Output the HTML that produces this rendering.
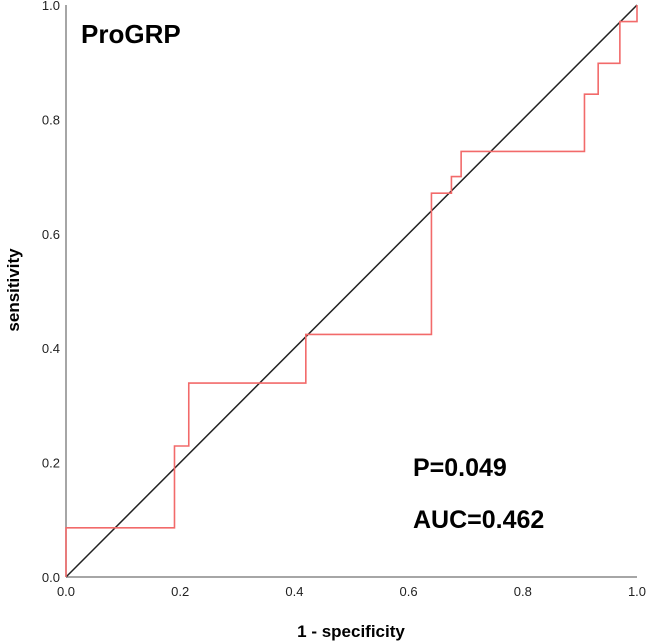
<!DOCTYPE html>
<html><head><meta charset="utf-8"><style>
html,body{margin:0;padding:0;background:#fff;}
svg{display:block;font-family:"Liberation Sans",sans-serif;}
</style></head><body>
<svg id="chart" width="647" height="644" viewBox="0 0 647 644">
<g id="axes"></g>
<line id="diag" stroke="#222" stroke-width="1.5"/>
<path id="roc" fill="none" stroke="#f26a6a" stroke-width="1.6"/>
<text x="81" y="43" font-size="26" font-weight="bold" fill="#000">ProGRP</text>
<text x="413" y="476" font-size="25" font-weight="bold" fill="#000">P=0.049</text>
<text x="413" y="528" font-size="25" font-weight="bold" fill="#000">AUC=0.462</text>
<text x="351" y="637" font-size="17" font-weight="bold" text-anchor="middle" fill="#000">1 - specificity</text>
<text transform="translate(19,290) rotate(-90)" font-size="17" font-weight="bold" text-anchor="middle" fill="#000">sensitivity</text>
</svg>
<script>
const xTicks = [0, 0.2, 0.4, 0.6, 0.8, 1.0];
const yTicks = [0, 0.2, 0.4, 0.6, 0.8, 1.0];
const fpr = [0, 0, 0.19, 0.215, 0.42, 0.64, 0.675, 0.692, 0.908, 0.932, 0.97, 1.0];
const tpr = [0, 0.086, 0.229, 0.339, 0.424, 0.671, 0.70, 0.744, 0.844, 0.898, 0.971, 1.0];

const X0 = 66, X1 = 637, Y0 = 577, Y1 = 5;
const sx = v => X0 + v * (X1 - X0);
const sy = v => Y0 - v * (Y0 - Y1);
const NS = "http://www.w3.org/2000/svg";
const axes = document.getElementById("axes");

function mk(tag, attrs, parent) {
  const e = document.createElementNS(NS, tag);
  for (const k in attrs) e.setAttribute(k, attrs[k]);
  parent.appendChild(e);
  return e;
}
const xl = mk("line", {x1: X0, y1: Y0, x2: X1, y2: Y0, stroke: "#888", "stroke-width": 1.5}, axes);


const yl = mk("line", {x1: X0, y1: Y0, x2: X0, y2: Y1, stroke: "#888", "stroke-width": 1.5}, axes);



xTicks.forEach(t => {
  const e = mk("text", {x: sx(t), y: Y0 + 19, "font-size": 13, "text-anchor": "middle", fill: "#222"}, axes);
  e.textContent = t.toFixed(1);
  
  
});
yTicks.forEach(t => {
  const e = mk("text", {x: X0 - 6, y: sy(t) + 5, "font-size": 13, "text-anchor": "end", fill: "#222"}, axes);
  e.textContent = t.toFixed(1);
  
  
});

const d = document.getElementById("diag");
d.setAttribute("x1", sx(0)); d.setAttribute("y1", sy(0));
d.setAttribute("x2", sx(1)); d.setAttribute("y2", sy(1));

let p = "M" + sx(fpr[0]) + "," + sy(tpr[0]);
for (let i = 1; i < fpr.length; i++) {
  p += " H" + sx(fpr[i]) + " V" + sy(tpr[i]);
}
document.getElementById("roc").setAttribute("d", p);
</script>
</body></html>
